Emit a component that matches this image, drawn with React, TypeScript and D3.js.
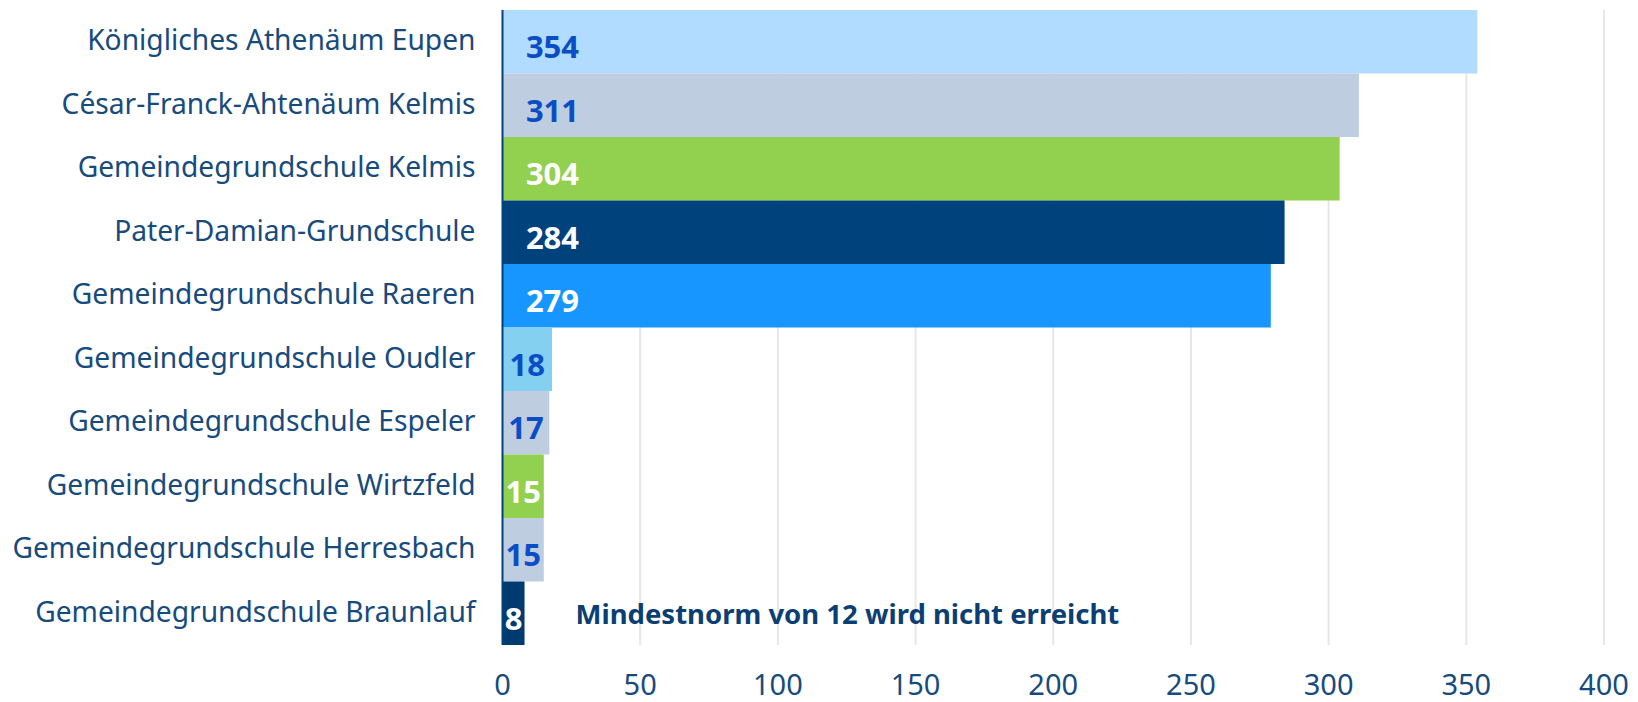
import React from 'react';
import * as d3 from 'd3';

const schools = [
  'Königliches Athenäum Eupen',
  'César-Franck-Ahtenäum Kelmis',
  'Gemeindegrundschule Kelmis',
  'Pater-Damian-Grundschule',
  'Gemeindegrundschule Raeren',
  'Gemeindegrundschule Oudler',
  'Gemeindegrundschule Espeler',
  'Gemeindegrundschule Wirtzfeld',
  'Gemeindegrundschule Herresbach',
  'Gemeindegrundschule Braunlauf',
];
const pupils = [354, 311, 304, 284, 279, 18, 17, 15, 15, 8];
const barColors = ['#b1dcff', '#bfcde0', '#92d050', '#00437c', '#1796ff', '#83d0f0', '#bfcde0', '#92d050', '#bfcde0', '#003b6f'];
const labelColors = ['#0a4dc6', '#0a4dc6', '#ffffff', '#ffffff', '#ffffff', '#0a4dc6', '#0a4dc6', '#ffffff', '#0a4dc6', '#ffffff'];
const xTicks = [0, 50, 100, 150, 200, 250, 300, 350, 400];
const note = 'Mindestnorm von 12 wird nicht erreicht';

const width = 1638;
const height = 702;
const margin = { top: 10, bottom: 57, left: 502.5, right: 34 };
const font = '"Noto Sans", sans-serif';
const textBlue = '#174b7d';

export default function App() {
  const x = d3.scaleLinear().domain([0, 400]).range([margin.left, width - margin.right]);
  const y = d3.scaleBand<string>().domain(schools).range([margin.top, height - margin.bottom]).padding(0);
  const bw = y.bandwidth();

  return (
    <svg width={width} height={height} style={{ position: 'absolute', left: 0, top: 0, background: '#fff' }}>
      {/* grid */}
      {xTicks.filter(t => t > 0).map(t => (
        <line key={t} x1={x(t)} x2={x(t)} y1={margin.top} y2={height - margin.bottom} stroke="#e6e6e6" strokeWidth={2} />
      ))}
      {/* bars */}
      {schools.map((s, i) => (
        <rect key={s} x={x(0)} y={y(s)} width={x(pupils[i]) - x(0)} height={bw} fill={barColors[i]} />
      ))}
      <line x1={x(0)} x2={x(0)} y1={margin.top} y2={height - margin.bottom} stroke="#00437c" strokeWidth={2} />
      {/* category labels */}
      {schools.map(s => (
        <text key={s} x={x(0) - 27} y={(y(s) as number) + bw / 2 + 1} textAnchor="end" dominantBaseline="middle"
          fontFamily={font} fontSize={28.2} fill={textBlue}>{s}</text>
      ))}
      {/* value labels */}
      {schools.map((s, i) => {
        const w = x(pupils[i]) - x(0);
        const cx = x(0) + Math.min(w / 2, 50);
        return (
          <text key={s} x={cx} y={(y(s) as number) + bw / 2 + 8} textAnchor="middle" dominantBaseline="middle"
            fontFamily={font} fontWeight="bold" fontSize={31} fill={labelColors[i]}>{pupils[i]}</text>
        );
      })}
      {/* note */}
      <text x={x(8) + 51} y={(y(schools[9]) as number) + bw / 2 + 3} dominantBaseline="middle"
        fontFamily={font} fontWeight="bold" fontSize={27.5} fill="#0b3f73">{note}</text>
      {/* x axis ticks */}
      {xTicks.map(t => (
        <text key={t} x={x(t)} y={687} textAnchor="middle" dominantBaseline="middle"
          fontFamily={font} fontSize={29} fill={textBlue}>{t}</text>
      ))}
    </svg>
  );
}
